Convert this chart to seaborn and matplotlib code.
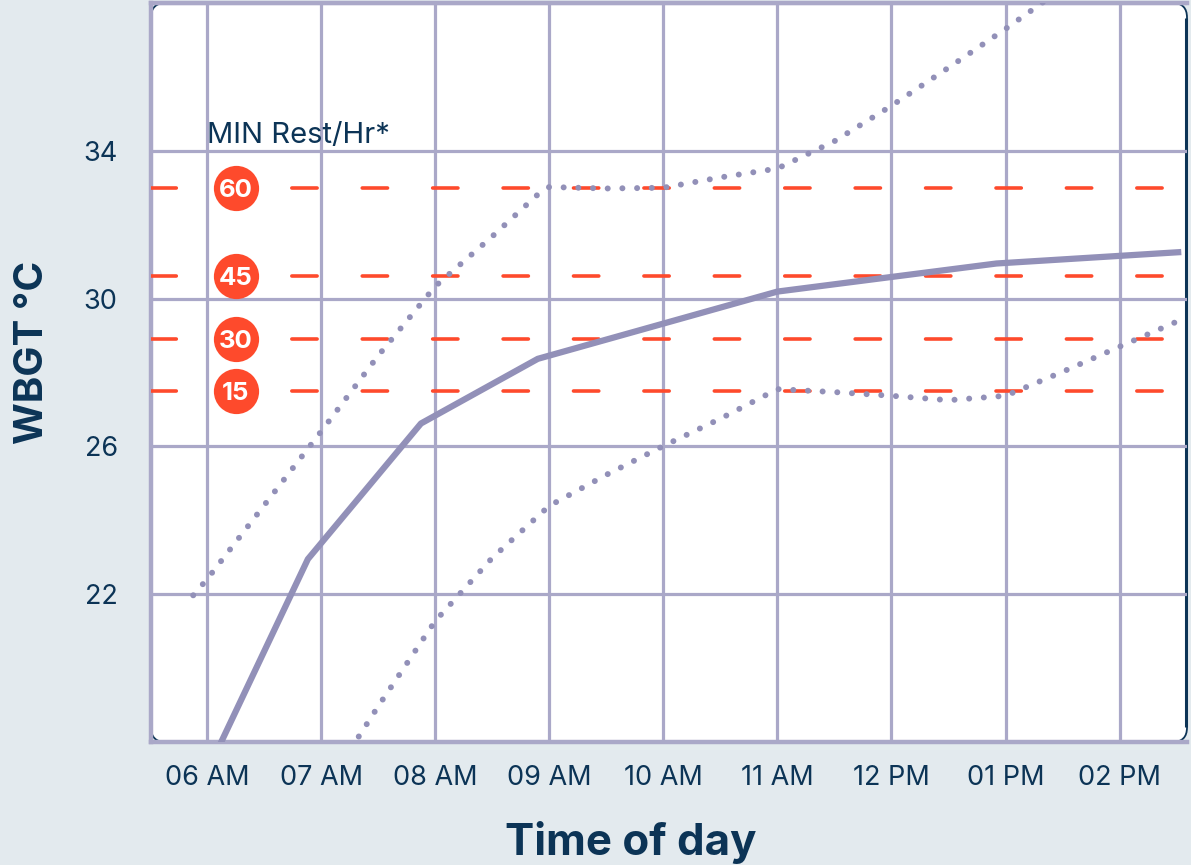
import matplotlib
matplotlib.use("Agg")
import matplotlib.pyplot as plt
import seaborn as sns
import pandas as pd
from matplotlib.patches import FancyBboxPatch

# ---------------- data ----------------
hours_main = [5.88, 6.885, 7.876, 8.90, 11.0, 12.92, 14.54]
wbgt_main = [16.4, 22.95, 26.62, 28.37, 30.19, 30.95, 31.26]

hours_upper = [5.88, 6.0, 6.5, 7.0, 7.5, 8.0, 8.5, 8.89, 9.0, 9.5, 10.0, 10.5,
               11.0, 11.5, 12.0, 12.5, 13.0, 13.5, 14.0, 14.54]
wbgt_upper = [21.97, 22.4, 24.4, 26.4, 28.45, 30.33, 31.68, 32.79, 33.02, 32.98,
              33.0, 33.28, 33.52, 34.26, 35.22, 36.25, 37.3, 38.4, 39.5, 40.6]

hours_lower = [6.885, 7.3, 7.5, 8.0, 8.5, 9.0, 9.5, 10.0, 10.5, 11.0, 11.5,
               12.0, 12.5, 13.0, 13.5, 14.0, 14.54]
wbgt_lower = [16.2, 18.0, 18.96, 21.27, 22.98, 24.39, 25.23, 26.01, 26.75, 27.55,
              27.47, 27.37, 27.25, 27.37, 28.02, 28.70, 29.43]

threshold_values = [33.0, 30.6, 28.9, 27.5]
threshold_labels = ["60", "45", "30", "15"]

x_ticks = [6, 7, 8, 9, 10, 11, 12, 13, 14]
x_tick_labels = ["06 AM", "07 AM", "08 AM", "09 AM", "10 AM", "11 AM",
                 "12 PM", "01 PM", "02 PM"]
y_ticks = [18, 22, 26, 30, 34, 38]
y_tick_labels = ["", "22", "26", "30", "34", ""]

# ---------------- style ----------------
BG = "#e3eaee"
NAVY = "#0c3456"
LAV = "#aaa8c8"
LINE = "#9290b8"
RED = "#fe4a2c"

sns.set_style("white")
plt.rcParams["font.family"] = ["Inter", "DejaVu Sans"]

fig = plt.figure(figsize=(11.91, 8.65), dpi=100, facecolor=BG)
W, H = 1191, 865
x0, x1, y0, y1 = 151, 1187, 3, 742
ax = fig.add_axes([x0 / W, 1 - y1 / H, (x1 - x0) / W, (y1 - y0) / H])
ax.patch.set_visible(False)

# rounded white plot panel (navy outline shows on the right side and corners)
panel = FancyBboxPatch((0, 0), 1, 1,
                       boxstyle="round,pad=0,rounding_size=0.014",
                       mutation_aspect=(x1 - x0) / (y1 - y0),
                       transform=ax.transAxes, facecolor="white",
                       edgecolor=NAVY, linewidth=1.3, zorder=0.1, clip_on=False)
ax.add_patch(panel)
ax.plot([0.9995, 0.9995], [0.02, 0.98], transform=ax.transAxes, color=NAVY,
        lw=2.2, solid_capstyle="butt", clip_on=False, zorder=0.2)

df_main = pd.DataFrame({"hour": hours_main, "wbgt": wbgt_main})
df_up = pd.DataFrame({"hour": hours_upper, "wbgt": wbgt_upper})
df_lo = pd.DataFrame({"hour": hours_lower, "wbgt": wbgt_lower})

sns.lineplot(data=df_main, x="hour", y="wbgt", ax=ax, color=LINE, lw=4.5,
             solid_capstyle="butt", zorder=3)
for d in (df_up, df_lo):
    sns.lineplot(data=d, x="hour", y="wbgt", ax=ax, color=LINE, lw=4.3,
                 linestyle=(0, (0.01, 2.45)), dash_capstyle="round", zorder=3)

# threshold lines
for v in threshold_values:
    ax.axhline(v, color=RED, lw=2.6, linestyle=(0, (7.0, 12.5)),
               dash_capstyle="round", zorder=2.6)

trans = ax.get_yaxis_transform()
ax.scatter([0.082] * len(threshold_values), threshold_values, s=1060, color=RED,
           transform=trans, zorder=4, linewidths=0)
for v, lab in zip(threshold_values, threshold_labels):
    ax.text(0.082, v, lab, transform=trans, ha="center", va="center_baseline",
            color="white", fontsize=18.5, fontweight="bold", zorder=5)

ax.text(6.0, 34.2, "MIN Rest/Hr*", ha="left", va="baseline", color=NAVY,
        fontsize=21, zorder=5)

# axes
ax.set_xlim(5.51, 14.59)
ax.set_ylim(18, 38)
ax.set_xticks(x_ticks)
ax.set_xticklabels(x_tick_labels)
ax.set_yticks(y_ticks)
ax.set_yticklabels(y_tick_labels)
ax.grid(True, color=LAV, lw=2.3)
ax.set_axisbelow(True)
for side in ("left", "top", "bottom"):
    ax.spines[side].set_color(LAV)
    ax.spines[side].set_linewidth(3.2)
    ax.spines[side].set_zorder(2.5)
ax.spines["right"].set_visible(False)

ax.tick_params(axis="y", length=18, width=2.3, color=LAV, pad=6,
               labelsize=19.5, labelcolor=NAVY)
ax.tick_params(axis="x", length=7.5, width=2.3, color=LAV, pad=9,
               labelsize=19.5, labelcolor=NAVY)
# extra tick at left edge of x-axis
ax.set_xticks([5.51], minor=True)
ax.tick_params(axis="x", which="minor", length=7.5, width=2.3, color=LAV)

ax.set_xlabel("Time of day", fontsize=31.5, fontweight="bold", color=NAVY)
ax.set_ylabel("WBGT °C", fontsize=29, fontweight="bold", color=NAVY)
ax.xaxis.set_label_coords((631 - x0) / (x1 - x0), (y1 - 843) / (y1 - y0))
ax.yaxis.set_label_coords((33 - x0) / (x1 - x0), (y1 - 352) / (y1 - y0))
ax.xaxis.label.set_va("center")
ax.yaxis.label.set_va("center")

fig.savefig("out.png", dpi=100, facecolor=BG)
